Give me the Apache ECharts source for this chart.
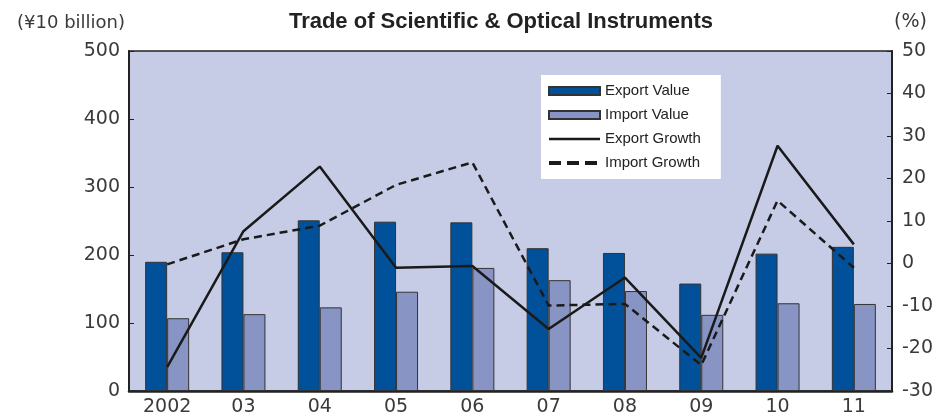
<!DOCTYPE html>
<html>
<head>
<meta charset="utf-8">
<script src="https://cdn.jsdelivr.net/npm/echarts@6/dist/echarts.min.js"></script>
<style>
  html, body { margin: 0; padding: 0; background: #fff; }
  #chart { width: 938px; height: 418px; }
</style>
</head>
<body>
<div id="chart"></div>
<script>
// 年份（类目）
const years = ['2002', '03', '04', '05', '06', '07', '08', '09', '10', '11'];

// 金额（单位：100亿日元）
const exportValue = [190, 204, 251, 249, 248, 210, 203, 158, 202, 212];
const importValue = [107, 113, 123, 146, 181, 163, 147, 112, 129, 128];

// 增长率（%）
const exportGrowth = [-24.4, 7.6, 22.8, -1.0, -0.6, -15.4, -3.3, -22.2, 27.7, 4.5];
const importGrowth = [-0.2, 5.7, 8.9, 18.5, 23.8, -9.9, -9.5, -23.9, 14.8, -1.0];

const font = "'Liberation Sans', Arial, sans-serif";
const axisFont = "'DejaVu Sans', sans-serif";
const labelColor = '#3a3a3a';

const chart = echarts.init(document.getElementById('chart'));

chart.setOption({
  animation: false,
  title: {
    text: 'Trade of Scientific & Optical Instruments',
    left: 496,
    textAlign: 'center',
    top: 6,
    textStyle: { fontFamily: font, fontSize: 22, fontWeight: 'bold', color: '#222' }
  },
  legend: {
    orient: 'vertical',
    left: 541,
    top: 75,
    padding: [8, 20, 8, 6],
    backgroundColor: '#fff',
    itemWidth: 51,
    itemHeight: 8,
    itemGap: 8,
    textStyle: { fontFamily: font, fontSize: 15, color: '#222', lineHeight: 16 },
    data: [
      { name: 'Export Value', icon: 'rect' },
      { name: 'Import Value', icon: 'rect' },
      { name: 'Export Growth', itemStyle: { opacity: 0 }, lineStyle: { width: 2.5 } },
      { name: 'Import Growth', itemStyle: { opacity: 0 }, lineStyle: { width: 4, type: [12, 6] } }
    ]
  },
  grid: {
    left: 129,
    right: 46,
    top: 51,
    bottom: 27,
    show: true,
    backgroundColor: '#C7CCE6',
    borderColor: '#222',
    borderWidth: 1.5
  },
  xAxis: {
    type: 'category',
    data: years,
    axisLine: { lineStyle: { color: '#222', width: 2.5 } },
    axisTick: { inside: true, length: 5, lineStyle: { color: '#222' } },
    axisLabel: { fontFamily: axisFont, fontSize: 19, color: labelColor, margin: 7 }
  },
  yAxis: [
    {
      type: 'value',
      min: 0,
      max: 500,
      interval: 100,
      name: '(¥10 billion)',
      nameLocation: 'end',
      nameGap: 19,
      nameTextStyle: { fontFamily: axisFont, fontSize: 18, color: labelColor, align: 'right', padding: [0, 4, 0, 0] },
      axisLine: { show: true, lineStyle: { color: '#222', width: 2 } },
      axisTick: { show: true, inside: true, length: 5, lineStyle: { color: '#222' } },
      axisLabel: { fontFamily: axisFont, fontSize: 19, color: labelColor, margin: 9 },
      splitLine: { show: false }
    },
    {
      type: 'value',
      min: -30,
      max: 50,
      interval: 10,
      name: '(%)',
      nameLocation: 'end',
      nameGap: 19,
      nameTextStyle: { fontFamily: axisFont, fontSize: 19, color: labelColor, align: 'left', padding: [0, 0, 0, 2] },
      axisLine: { show: true, lineStyle: { color: '#222', width: 2 } },
      axisTick: { show: true, inside: true, length: 5, lineStyle: { color: '#222' } },
      axisLabel: { fontFamily: axisFont, fontSize: 19, color: labelColor, margin: 10 },
      splitLine: { show: false }
    }
  ],
  series: [
    {
      name: 'Export Value',
      type: 'bar',
      data: exportValue,
      barWidth: 22,
      barGap: '0%',
      itemStyle: { color: '#00519A', borderColor: '#333', borderWidth: 1 }
    },
    {
      name: 'Import Value',
      type: 'bar',
      data: importValue,
      barWidth: 22,
      itemStyle: { color: '#8794C4', borderColor: '#333', borderWidth: 1 }
    },
    {
      name: 'Export Growth',
      type: 'line',
      yAxisIndex: 1,
      data: exportGrowth,
      symbol: 'none',
      z: 5,
      lineStyle: { color: '#1a1a1a', width: 2.5 },
      itemStyle: { color: '#1a1a1a' }
    },
    {
      name: 'Import Growth',
      type: 'line',
      yAxisIndex: 1,
      data: importGrowth,
      symbol: 'none',
      z: 5,
      lineStyle: { color: '#1a1a1a', width: 2.5, type: [8, 5] },
      itemStyle: { color: '#1a1a1a' }
    }
  ]
});
</script>
</body>
</html>
